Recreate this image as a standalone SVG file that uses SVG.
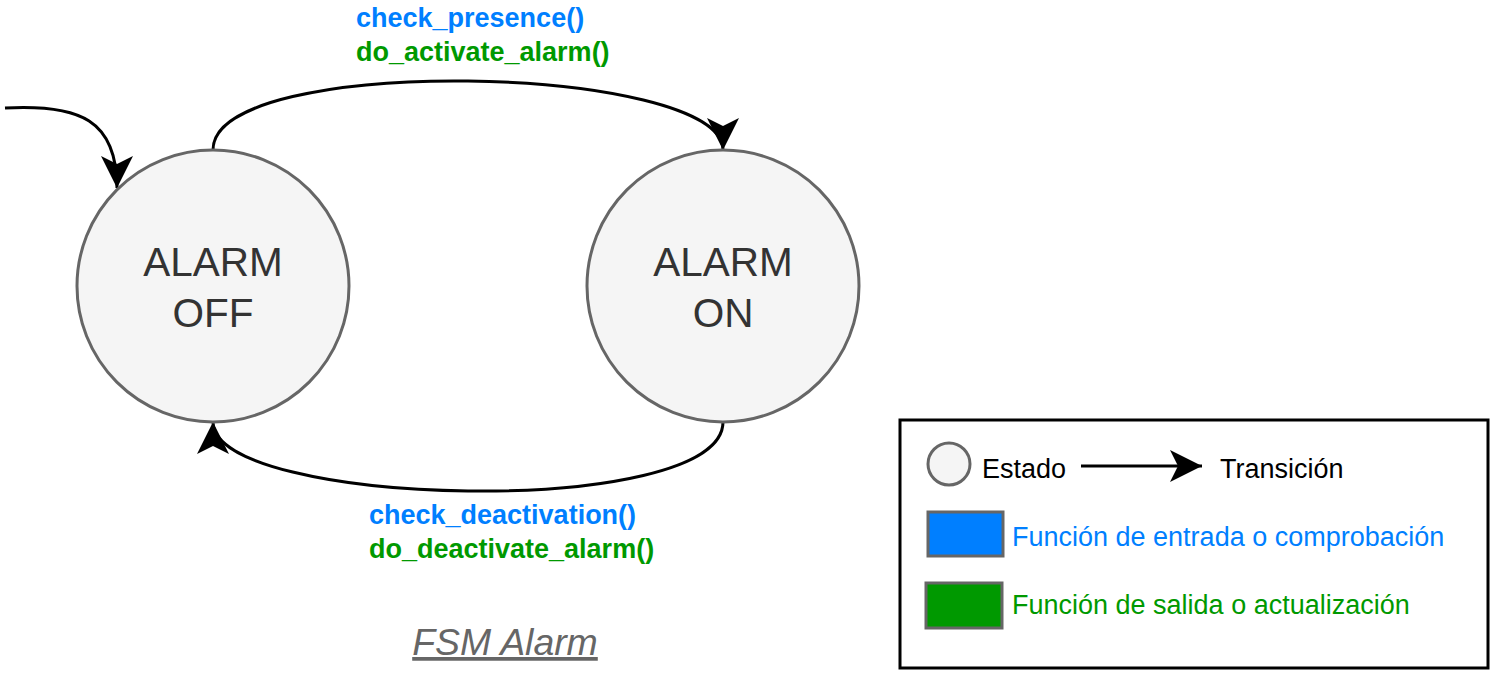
<svg xmlns="http://www.w3.org/2000/svg" width="1498" height="674" viewBox="0 0 1498 674">
<style>
.state{fill:#f5f5f5;stroke:#666;stroke-width:3}
.stxt{font-family:"Liberation Sans",Arial,sans-serif;font-size:40.5px;fill:#333;text-anchor:middle}
.lbl{font-family:"Liberation Sans",Arial,sans-serif;font-size:27px;font-weight:bold}
.blue{fill:#007fff}
.green{fill:#009900}
.edge{fill:none;stroke:#000;stroke-width:3}
.leg{font-family:"Liberation Sans",Arial,sans-serif;font-size:27px}
</style>
<defs>
<marker id="ah" viewBox="0 0 32 32" refX="32" refY="16" markerWidth="32" markerHeight="32" markerUnits="userSpaceOnUse" orient="auto">
<path d="M0,0 L32,16 L0,32 L8,16 Z" fill="#000"/>
</marker>
</defs>
<rect width="1498" height="674" fill="#fff"/>
<g id="connectors">
<path class="edge" d="M5,108 C80,104 117,120 117,188" marker-end="url(#ah)"/>
<path class="edge" d="M213,150 C213,52 723,64 723,150" marker-end="url(#ah)"/>
<path class="edge" d="M723,422 C723,520 213,508 213,422" marker-end="url(#ah)"/>
</g>
<g id="state-off">
<circle class="state" cx="213" cy="286" r="136"/>
<text class="stxt" x="213" y="276">ALARM</text>
<text class="stxt" x="213" y="327">OFF</text>
</g>
<g id="state-on">
<circle class="state" cx="723" cy="286" r="136"/>
<text class="stxt" x="723" y="276">ALARM</text>
<text class="stxt" x="723" y="327">ON</text>
</g>
<g id="label-top">
<text class="lbl blue" x="356" y="27">check_presence()</text>
<text class="lbl green" x="356" y="61">do_activate_alarm()</text>
</g>
<g id="label-bottom">
<text class="lbl blue" x="369" y="524">check_deactivation()</text>
<text class="lbl green" x="369" y="558">do_deactivate_alarm()</text>
</g>
<g id="title">
<text x="505" y="655" font-family="Liberation Sans,Arial,sans-serif" font-size="37.4" font-style="italic" fill="#666" text-anchor="middle" text-decoration="underline">FSM Alarm</text>
</g>
<g id="legend">
<rect x="900" y="420" width="588" height="248" fill="#fff" stroke="#000" stroke-width="3"/>
<circle cx="949" cy="464" r="21" class="state"/>
<text class="leg" x="982" y="478" fill="#000">Estado</text>
<line x1="1081" y1="466" x2="1202" y2="466" stroke="#000" stroke-width="3" marker-end="url(#ah)"/>
<text class="leg" x="1220" y="478" fill="#000">Transición</text>
<rect x="928" y="512" width="75" height="44" fill="#007fff" stroke="#666" stroke-width="3"/>
<text class="leg blue" x="1012" y="546">Función de entrada o comprobación</text>
<rect x="926" y="583" width="76" height="45" fill="#009900" stroke="#666" stroke-width="3"/>
<text class="leg green" x="1012" y="614">Función de salida o actualización</text>
</g>
</svg>
